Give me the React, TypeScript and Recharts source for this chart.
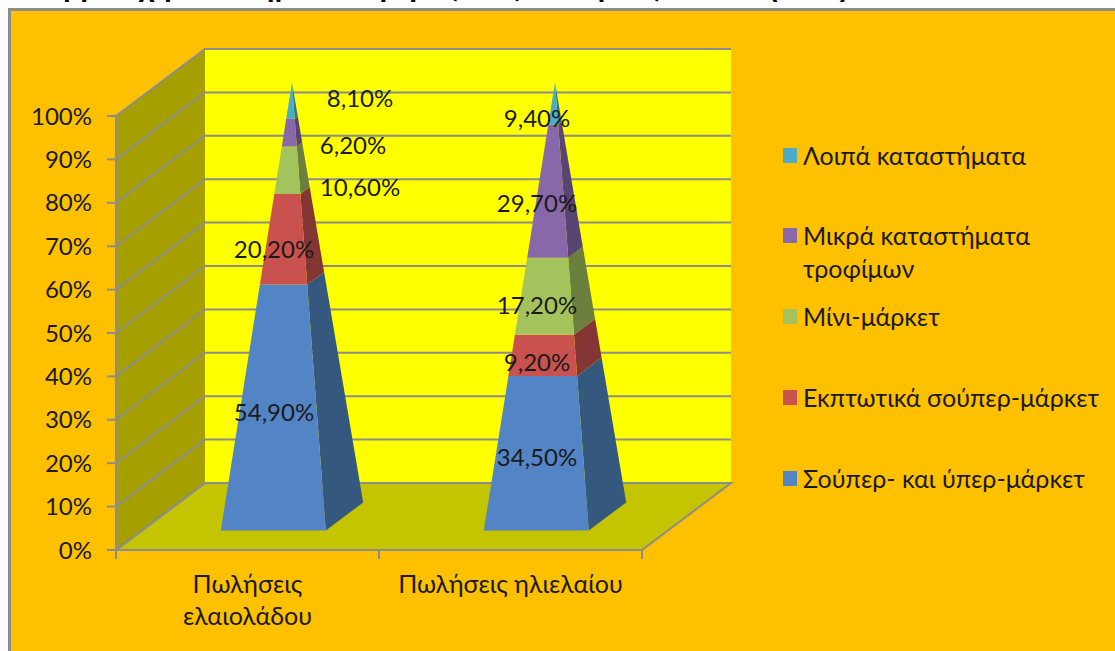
import { BarChart, Bar, XAxis, YAxis, CartesianGrid, Legend, LabelList } from 'recharts';

const categories = ['Πωλήσεις\nελαιολάδου', 'Πωλήσεις ηλιελαίου'];
const superHyper = [54.9, 34.5];
const discount = [20.2, 9.2];
const miniMarket = [10.6, 17.2];
const smallFood = [6.2, 29.7];
const otherStores = [8.1, 9.4];

const seriesNames = [
  'Σούπερ- και ύπερ-μάρκετ',
  'Εκπτωτικά σούπερ-μάρκετ',
  'Μίνι-μάρκετ',
  'Μικρά καταστήματα τροφίμων',
  'Λοιπά καταστήματα',
];
const seriesValues = [superHyper, discount, miniMarket, smallFood, otherStores];
const frontColors = ['#5284c6', '#c9524f', '#a5c35c', '#8868a8', '#4cacc8'];
const sideColors = ['#35587f', '#843634', '#6b7f3e', '#584572', '#327587'];
const percentTicks = [0, 0.1, 0.2, 0.3, 0.4, 0.5, 0.6, 0.7, 0.8, 0.9, 1];

const chartData = categories.map((name, i) => {
  const row: Record<string, string | number> = { name };
  seriesNames.forEach((s, k) => { row[s] = seriesValues[k][i]; });
  return row;
});

const FONT = 'Lato, "Open Sans", sans-serif';
const TEXT = '#1a1a1a';
const GRID = '#8c8c8c';

// Front plane of the fake 3D box
const WIDTH = 1115;
const HEIGHT = 651;
const LEFT = 116;
const RIGHT = 642;
const TOP = 116;
const BOTTOM = 550;
const DEPTH_X = 89;
const DEPTH_Y = 67;
const BAR_WIDTH = 105;
const PYRAMID_DEPTH = 0.42; // share of the box depth taken by the base

// Labels the 2007 chart has dragged away from their segment, [category, series, dx, dy]
const movedLabels: [number, number, number, number][] = [
  [0, 2, 86, 4],
  [0, 3, 79, -1],
  [0, 4, 86, -17],
];

// A segment of the pyramid: t runs from 0 at the base to 1 at the apex
function PyramidSegment(props: any) {
  const { x, y, width, height, fill, seriesIndex } = props;
  const plot = BOTTOM - TOP;
  const t0 = (BOTTOM - (y + height)) / plot;
  const t1 = (BOTTOM - y) / plot;
  const cx = x + width / 2;

  const corner = (t: number, side: number, depth: number) => {
    const shrink = 1 - t;
    const d = 0.5 + depth * shrink * (PYRAMID_DEPTH / 2);
    return [
      cx + side * (width / 2) * shrink + DEPTH_X * d,
      BOTTOM - plot * t - DEPTH_Y * d,
    ].map(v => v.toFixed(1)).join(',');
  };

  const front = [corner(t0, -1, -1), corner(t0, 1, -1), corner(t1, 1, -1), corner(t1, -1, -1)];
  const side = [corner(t0, 1, -1), corner(t0, 1, 1), corner(t1, 1, 1), corner(t1, 1, -1)];
  return (
    <g>
      <polygon points={side.join(' ')} fill={sideColors[seriesIndex]} />
      <polygon points={front.join(' ')} fill={fill} />
    </g>
  );
}

// Gridline that runs up the side wall and across the back wall
function WallLine(props: any) {
  const { x1, x2, y1 } = props;
  return (
    <polyline
      points={`${x1},${y1} ${x1 + DEPTH_X},${y1 - DEPTH_Y} ${x2 + DEPTH_X},${y1 - DEPTH_Y}`}
      fill="none"
      stroke={GRID}
      strokeWidth={2}
    />
  );
}

// Category name plus tick marks on the band edges rather than the band centre
function CategoryTick(props: any) {
  const { x, y, payload } = props;
  const lines = String(payload.value).split('\n');
  const halfBand = (RIGHT - LEFT) / categories.length / 2;
  return (
    <g>
      {[-halfBand, halfBand].map(dx => (
        <line key={dx} x1={x + dx} x2={x + dx} y1={BOTTOM} y2={BOTTOM + 9} stroke={GRID} strokeWidth={2} />
      ))}
      <text x={x} y={y} textAnchor="middle" fontSize={25} fontFamily={FONT} fill={TEXT}>
        {lines.map((line, i) => (
          <tspan key={line} x={x} y={y + 35 + i * 32}>{line}</tspan>
        ))}
      </text>
    </g>
  );
}

const makeLabel = (seriesIndex: number) => (props: any) => {
  const { x, y, width, height, value, index } = props;
  const moved = movedLabels.find(m => m[0] === index && m[1] === seriesIndex);
  const dx = moved ? moved[2] : 0;
  const dy = moved ? moved[3] : 0;
  return (
    <text
      x={x + width / 2 + 26.5 + dx}
      y={y + height / 2 - 19 + dy}
      textAnchor="middle"
      dominantBaseline="central"
      fontSize={24}
      fontFamily={FONT}
      fill={TEXT}
    >
      {`${Number(value).toFixed(2).replace('.', ',')}%`}
    </text>
  );
};

const legendRows = [156, 236, 317, 398, 479];

function LegendColumn(props: any) {
  const entries = [...(props.payload ?? [])].reverse();
  return (
    <div style={{ position: 'relative', width: 330, height: 400, fontFamily: FONT, fontSize: 25, color: TEXT }}>
      {entries.map((entry: any, i: number) => (
        <div key={entry.value} style={{ position: 'absolute', top: legendRows[i] - 100 - 17, left: 0, display: 'flex' }}>
          <span style={{ width: 14, height: 15, marginTop: 9, marginRight: 6, background: entry.color, flex: 'none' }} />
          <span style={{ lineHeight: '33px', width: 300 }}>{entry.value}</span>
        </div>
      ))}
    </div>
  );
}

export default function App() {
  return (
    <div style={{ position: 'fixed', left: 0, top: 0, width: WIDTH, height: HEIGHT, background: '#fff', overflow: 'hidden' }}>
      <div
        style={{
          position: 'absolute', left: 30, top: -29, whiteSpace: 'nowrap',
          fontFamily: '"Liberation Sans", sans-serif', fontWeight: 700, fontSize: 28, color: '#000',
        }}
      >
        Συμμετοχή των σημείων αγοράς στις πωλήσεις ελαίων (2007)
      </div>
      <div
        style={{
          position: 'absolute', left: 8, top: 8, right: -6, bottom: -6,
          background: '#ffc000', border: `3px solid ${GRID}`, boxSizing: 'border-box',
        }}
      />
      {/* walls and floor of the box */}
      <svg width={WIDTH} height={HEIGHT} style={{ position: 'absolute', left: 0, top: 0 }}>
        <polygon
          points={`${LEFT + DEPTH_X},${TOP - DEPTH_Y} ${RIGHT + DEPTH_X},${TOP - DEPTH_Y} ${RIGHT + DEPTH_X},${BOTTOM - DEPTH_Y} ${LEFT + DEPTH_X},${BOTTOM - DEPTH_Y}`}
          fill="#ffff00"
        />
        <polygon
          points={`${LEFT},${TOP} ${LEFT + DEPTH_X},${TOP - DEPTH_Y} ${LEFT + DEPTH_X},${BOTTOM - DEPTH_Y} ${LEFT},${BOTTOM}`}
          fill="#a5a000"
        />
        <polygon
          points={`${LEFT},${BOTTOM} ${RIGHT},${BOTTOM} ${RIGHT + DEPTH_X},${BOTTOM - DEPTH_Y} ${LEFT + DEPTH_X},${BOTTOM - DEPTH_Y}`}
          fill="#c4c400"
          stroke={GRID}
          strokeWidth={2}
        />
      </svg>
      <div style={{ position: 'absolute', left: 0, top: 0 }}>
        <BarChart
          width={WIDTH}
          height={HEIGHT}
          data={chartData}
          stackOffset="expand"
          barSize={BAR_WIDTH}
          margin={{ top: TOP, right: WIDTH - RIGHT, bottom: 0, left: 0 }}
        >
          <CartesianGrid vertical={false} horizontal={WallLine} />
          <XAxis
            dataKey="name"
            height={HEIGHT - BOTTOM}
            interval={0}
            stroke={GRID}
            strokeWidth={2}
            tickLine={false}
            tick={CategoryTick}
          />
          <YAxis
            width={LEFT}
            domain={[0, 1]}
            ticks={percentTicks}
            stroke={GRID}
            strokeWidth={2}
            tickSize={9}
            tickMargin={15}
            tickFormatter={(v: number) => `${Math.round(v * 100)}%`}
            tick={{ fontSize: 24, fontFamily: FONT, fill: TEXT }}
          />
          {/* vertical + center + middle keeps the legend out of the plot offset */}
          <Legend
            layout="vertical"
            verticalAlign="middle"
            align="center"
            itemSorter={null}
            content={LegendColumn}
            wrapperStyle={{ position: 'absolute', left: 783, top: 100, width: 330 }}
          />
          {seriesNames.map((name, k) => (
            <Bar
              key={name}
              dataKey={name}
              stackId="share"
              fill={frontColors[k]}
              isAnimationActive={false}
              shape={(p: any) => <PyramidSegment {...p} seriesIndex={k} />}
            >
              <LabelList dataKey={name} content={makeLabel(k)} />
            </Bar>
          ))}
        </BarChart>
      </div>
    </div>
  );
}
